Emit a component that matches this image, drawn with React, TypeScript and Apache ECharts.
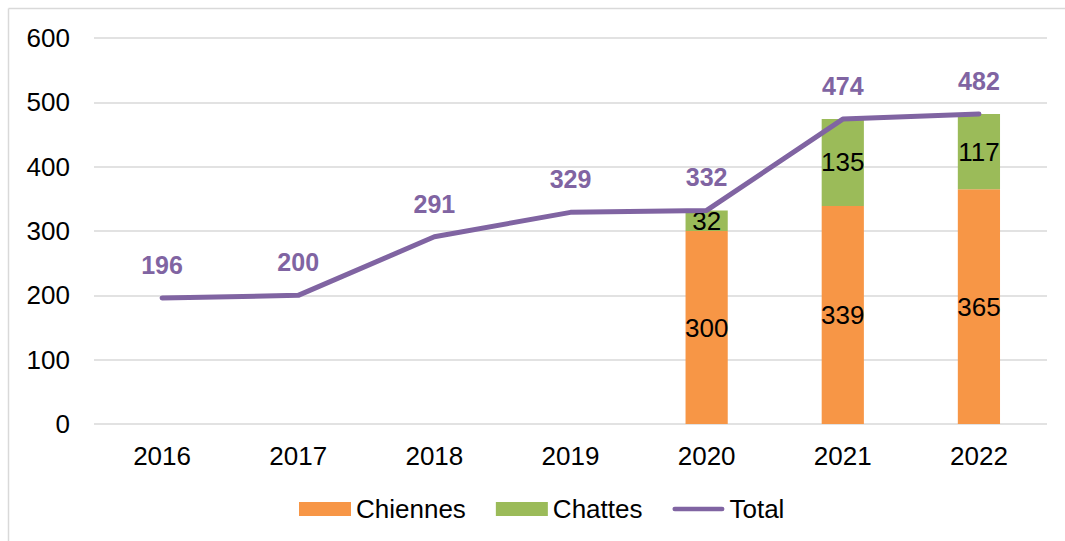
import React, { useEffect, useRef } from "react";
import * as echarts from "echarts";

const categories = ["2016", "2017", "2018", "2019", "2020", "2021", "2022"];
const chiennes = [null, null, null, null, 300, 339, 365];
const chattes = [null, null, null, null, 32, 135, 117];
const total = [196, 200, 291, 329, 332, 474, 482];
const yTicks = { min: 0, max: 600, interval: 100 };

const FONT = "'Liberation Sans', Arial, sans-serif";
const FS = 26;

export default function App() {
  const ref = useRef<HTMLDivElement>(null);
  useEffect(() => {
    if (!ref.current) return;
    const chart = echarts.init(ref.current, null, { renderer: "svg" });
    chart.setOption({
      animation: false,
      textStyle: { fontFamily: FONT },
      graphic: [
        { type: "line", shape: { x1: 8.5, y1: 8.5, x2: 1065, y2: 8.5 }, style: { stroke: "#d9d9d9", lineWidth: 1.5 } },
        { type: "line", shape: { x1: 8.5, y1: 8.5, x2: 8.5, y2: 541 }, style: { stroke: "#d9d9d9", lineWidth: 1.5 } },
      ],
      grid: { left: 94, right: 18, top: 38, bottom: 117, containLabel: false },
      legend: {
        bottom: 14,
        left: 294,
        itemWidth: 52,
        itemHeight: 14,
        itemGap: 30,
        textStyle: { fontSize: FS, color: "#000", fontFamily: FONT },
        data: [
          { name: "Chiennes", icon: "rect" },
          { name: "Chattes", icon: "rect" },
          { name: "Total", icon: "path://M2.5,0 L53.5,0 A2.5,2.5 0 0 1 53.5,5 L2.5,5 A2.5,2.5 0 0 1 2.5,0 Z" },
        ],
      },
      xAxis: {
        type: "category",
        data: categories,
        axisLine: { show: false },
        axisTick: { show: false },
        axisLabel: { fontSize: FS, color: "#000", margin: 19, fontFamily: FONT },
      },
      yAxis: {
        type: "value",
        min: yTicks.min,
        max: yTicks.max,
        interval: yTicks.interval,
        axisLine: { show: false },
        axisTick: { show: false },
        axisLabel: { fontSize: FS, color: "#000", margin: 24, fontFamily: FONT },
        splitLine: { lineStyle: { color: "#d9d9d9", width: 1.5 } },
      },
      series: [
        {
          name: "Chiennes",
          type: "bar",
          stack: "s",
          data: chiennes,
          barWidth: "31%",
          itemStyle: { color: "#F79646" },
          label: { show: true, position: "inside", fontSize: FS, color: "#000", fontFamily: FONT },
        },
        {
          name: "Chattes",
          type: "bar",
          stack: "s",
          data: chattes,
          barWidth: "31%",
          itemStyle: { color: "#9BBB59" },
          label: { show: true, position: "inside", fontSize: FS, color: "#000", fontFamily: FONT },
        },
        {
          name: "Total",
          type: "line",
          data: total,
          symbol: "circle",
          symbolSize: 1,
          showSymbol: true,
          itemStyle: { color: "#8064A2" },
          lineStyle: { color: "#8064A2", width: 5, cap: "round", join: "round" },
          label: {
            show: true,
            position: "top",
            distance: 20,
            fontSize: 25,
            fontWeight: "bold",
            color: "#8064A2",
            fontFamily: FONT,
          },
          z: 5,
        },
      ],
    });
    return () => chart.dispose();
  }, []);
  return (
    <div
      ref={ref}
      style={{ position: "fixed", left: 0, top: 0, width: 1065, height: 541, background: "#fff" }}
    />
  );
}
